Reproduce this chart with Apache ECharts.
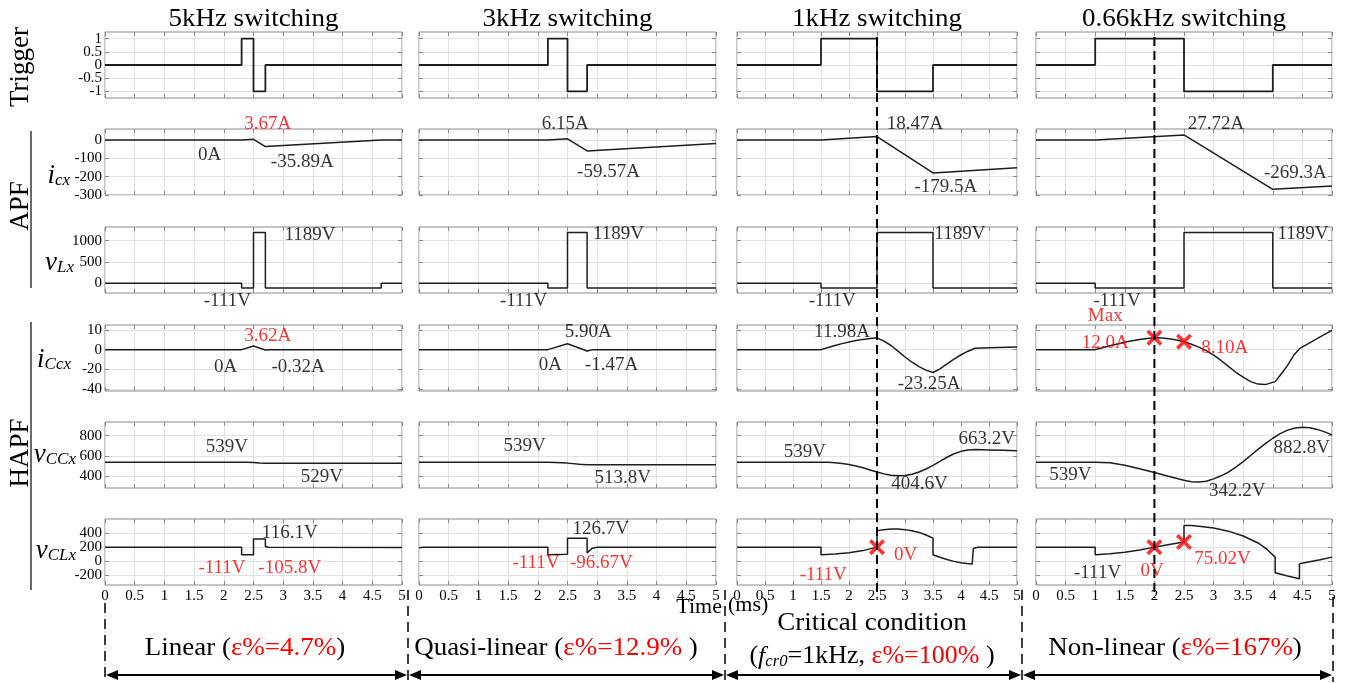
<!DOCTYPE html>
<html><head><meta charset="utf-8">
<script src="https://cdn.jsdelivr.net/npm/echarts@6/dist/echarts.min.js"></script>
<style>html,body{margin:0;padding:0;background:#fff}#c{width:1345px;height:683px}</style>
</head><body><div id="c"></div>
<script>
// ================= DATA =================
const columnTitles = ['5kHz switching', '3kHz switching', '1kHz switching', '0.66kHz switching'];
const rowMin = [-1.25, -300, -230, -42, 285, -345];
const rowMax = [1.25, 60, 1320, 25, 935, 605];
const rowTickValues = [[-1, -0.5, 0, 0.5, 1], [-300, -200, -100, 0], [0, 500, 1000], [-40, -20, 0, 20], [400, 600, 800], [-200, 0, 200, 400]];
const rowTickLabels = [['-1', '-0.5', '0', '0.5', '1'], ['-300', '-200', '-100', '0'], ['0', '500', '1000'], ['-40', '-20', '0', '10'], ['400', '600', '800'], ['-200', '0', '200', '400']];
const timeMin = 0, timeMax = 5, timeStep = 0.5;

// Trigger
const trig5k = [[0,0],[2.3,0],[2.3,1],[2.5,1],[2.5,-1],[2.7,-1],[2.7,0],[5,0]];
const trig3k = [[0,0],[2.17,0],[2.17,1],[2.5,1],[2.5,-1],[2.83,-1],[2.83,0],[5,0]];
const trig1k = [[0,0],[1.5,0],[1.5,1],[2.5,1],[2.5,-1],[3.5,-1],[3.5,0],[5,0]];
const trig066k = [[0,0],[1,0],[1,1],[2.5,1],[2.5,-1],[4,-1],[4,0],[5,0]];
// i_cx
const icx5k = [[0,0],[2.3,0],[2.5,3.67],[2.7,-35.89],[4.65,0],[5,0]];
const icx3k = [[0,0],[2.17,0],[2.5,6.15],[2.83,-59.57],[5,-19.6]];
const icx1k = [[0,0],[1.5,0],[2.5,18.47],[3.5,-179.5],[5,-152]];
const icx066k = [[0,0],[1,0],[2.5,27.72],[4,-269.3],[5,-251]];
// v_Lx
const vLx5k = [[0,0],[2.3,0],[2.3,-111],[2.5,-111],[2.5,1189],[2.7,1189],[2.7,-111],[4.65,-111],[4.65,0],[5,0]];
const vLx3k = [[0,0],[2.17,0],[2.17,-111],[2.5,-111],[2.5,1189],[2.83,1189],[2.83,-111],[5,-111]];
const vLx1k = [[0,0],[1.5,0],[1.5,-111],[2.5,-111],[2.5,1189],[3.5,1189],[3.5,-111],[5,-111]];
const vLx066k = [[0,0],[1,0],[1,-111],[2.5,-111],[2.5,1189],[4,1189],[4,-111],[5,-111]];
// i_Ccx
const iCcx5k = [[0,0],[2.3,0],[2.5,3.62],[2.7,-0.32],[2.8,0],[5,0]];
const iCcx3k = [[0,0],[2.17,0],[2.5,5.9],[2.83,-1.47],[2.93,0],[5,0]];
const iCcx1k = [[0,0],[1.5,0],[1.625,2.2],[1.75,4.2],[1.875,6.1],[2,7.8],[2.125,9.2],[2.25,10.4],[2.375,11.3],[2.5,11.98],[2.625,8.6],[2.75,4.2],[2.875,-1.5],[3,-7.5],[3.125,-12.8],[3.25,-17.3],[3.375,-20.8],[3.5,-23.25],[3.625,-19.5],[3.75,-14.5],[3.875,-9.6],[4,-5.2],[4.125,-1.6],[4.25,1.4],[4.5,2],[5,2.6]];
const iCcx066k = [[0,0],[1,0],[1.125,2],[1.25,3.9],[1.375,5.8],[1.5,7.5],[1.625,9],[1.75,10.3],[1.875,11.4],[2,12],[2.125,11.8],[2.25,11],[2.375,9.8],[2.5,8.1],[2.625,5.5],[2.75,2.5],[2.875,-1],[3,-5.5],[3.125,-11],[3.25,-17],[3.375,-23],[3.5,-28],[3.625,-32.5],[3.75,-35],[3.875,-35.5],[4.04,-32.5],[4.125,-26],[4.25,-16],[4.35,-6],[4.45,1],[4.6,6],[4.8,13],[5,19.5]];
// v_CCx
const vCCx5k = [[0,539],[2.3,539],[2.4,538],[2.5,535],[2.6,531],[2.7,529],[5,529]];
const vCCx3k = [[0,539],[2.17,539],[2.3,537],[2.5,530],[2.7,519],[2.83,514.5],[3,513.8],[5,513.8]];
const vCCx1k = [[0,539],[1.5,539],[1.625,538],[1.75,534],[1.875,527],[2,516],[2.125,502],[2.25,484],[2.375,463],[2.5,442],[2.625,424],[2.75,411],[2.875,405],[3,408],[3.125,420],[3.25,442],[3.375,472],[3.5,508],[3.625,548],[3.75,588],[3.875,622],[4,646],[4.125,659],[4.25,663.2],[4.5,660],[4.75,656],[5,652]];
const vCCx066k = [[0,539],[1,539],[1.25,533],[1.5,510],[1.75,475],[2,437],[2.25,398],[2.5,362],[2.625,347],[2.75,343],[2.875,352],[3,375],[3.125,405],[3.25,442],[3.375,490],[3.5,545],[3.625,605],[3.75,665],[3.875,722],[4,775],[4.125,820],[4.25,855],[4.375,876],[4.5,882.8],[4.625,878],[4.75,862],[4.875,838],[5,808]];
// v_CLx
const vCLx5k = [[0,200],[2.3,200],[2.3,89],[2.5,89],[2.5,316],[2.7,316],[2.7,210],[2.75,198],[5,196]];
const vCLx3k = [[0,192],[0.08,199],[2.17,200],[2.17,89],[2.5,97],[2.5,327],[2.83,327],[2.83,115],[2.87,150],[2.92,185],[3,198],[5,200]];
const vCLx1k = [[0,200],[1.5,200],[1.5,89],[1.75,100],[2,118],[2.25,150],[2.5,200],[2.5,437],[2.625,452],[2.75,460],[2.875,460],[3,452],[3.125,436],[3.25,412],[3.375,375],[3.5,330],[3.5,90],[3.625,55],[3.75,22],[3.875,-5],[4,-25],[4.1,-36],[4.2,-42],[4.22,180],[4.3,198],[5,200]];
const vCLx066k = [[0,200],[1,200],[1,89],[1.25,105],[1.5,128],[1.75,160],[2,200],[2.25,238],[2.5,275],[2.5,511],[2.625,510],[2.75,502],[3,475],[3.25,430],[3.5,360],[3.75,260],[3.9,170],[4.04,56],[4.04,-170],[4.25,-215],[4.45,-256],[4.45,-40],[4.6,-15],[4.8,20],[5,56]];

// red cross markers
const cross1kVCL = [[2.5, 200]];
const cross066kICc = [[2, 12.0], [2.5, 8.1]];
const cross066kVCL = [[2, 200], [2.5, 275]];

// value annotations [x, y, text, isRed]
const annIcx = [
  [[2.74, 87, '3.67A', 1], [1.76, -80, '0A'], [3.32, -120, '-35.89A']],
  [[2.46, 87, '6.15A'], [3.19, -174, '-59.57A']],
  [[3.18, 87, '18.47A'], [3.73, -254, '-179.5A']],
  [[3.04, 87, '27.72A'], [4.38, -182, '-269.3A']]
];
const annVLx = [
  [[3.45, 1132, '1189V'], [2.06, -418, '-111V']],
  [[3.36, 1160, '1189V'], [1.76, -418, '-111V']],
  [[3.98, 1160, '1189V'], [1.70, -418, '-111V']],
  [[4.51, 1165, '1189V'], [1.37, -418, '-111V']]
];
const annICcx = [
  [[2.74, 13.8, '3.62A', 1], [2.03, -18.1, '0A'], [3.25, -18.1, '-0.32A']],
  [[2.85, 17.4, '5.90A'], [2.21, -15.6, '0A'], [3.24, -15.6, '-1.47A']],
  [[1.875, 17.4, '11.98A'], [3.43, -34.9, '-23.25A']],
  [[1.17, 34.1, 'Max', 1], [1.17, 7.2, '12.0A', 1], [3.19, 1.6, '8.10A', 1]]
];
const annVCCx = [
  [[2.05, 684, '539V'], [3.65, 398, '529V']],
  [[1.78, 699, '539V'], [3.43, 384, '513.8V']],
  [[1.21, 635, '539V'], [4.46, 772, '663.2V'], [3.26, 329, '404.6V']],
  [[0.58, 408, '539V'], [4.49, 674, '882.8V'], [3.40, 255, '342.2V']]
];
const annVCLx = [
  [[3.11, 404, '116.1V'], [1.97, -107, '-111V', 1], [3.11, -107, '-105.8V', 1]],
  [[3.06, 468, '126.7V'], [1.97, -35, '-111V', 1], [3.07, -35, '-96.67V', 1]],
  [[1.54, -201, '-111V', 1], [3.01, 87, '0V', 1]],
  [[1.04, -179, '-111V'], [1.96, -150, '0V', 1], [3.15, 22, '75.02V', 1]]
];

const rowsData = [
  [trig5k, trig3k, trig1k, trig066k],
  [icx5k, icx3k, icx1k, icx066k],
  [vLx5k, vLx3k, vLx1k, vLx066k],
  [iCcx5k, iCcx3k, iCcx1k, iCcx066k],
  [vCCx5k, vCCx3k, vCCx1k, vCCx066k],
  [vCLx5k, vCLx3k, vCLx1k, vCLx066k]
];
const rowsAnn = [[[], [], [], []], annIcx, annVLx, annICcx, annVCCx, annVCLx];
const rowsCross = [[[], [], [], []], [[], [], [], []], [[], [], [], []],
  [[], [], [], cross066kICc], [[], [], [], []], [[], [], cross1kVCL, cross066kVCL]];

// ================= LAYOUT / STYLE =================
const SERIF = '"Liberation Serif","DejaVu Serif",serif';
const RED = '#ff0000';
const INK = '#1e1e1e';
const FRAME = '#8a8a8a';
const colLeft = [105, 419, 737, 1036], colWidth = [297, 297, 280, 296];
const rowTop = [32, 129, 227, 325, 422, 519], rowH = 66;
const CROSS = 'path://M0,1.6L1.6,0L5,3.4L8.4,0L10,1.6L6.6,5L10,8.4L8.4,10L5,6.6L1.6,10L0,8.4L3.4,5Z';

function tickLabel(r, v) {
  const i = rowTickValues[r].findIndex(t => Math.abs(t - v) < 1e-9);
  return i >= 0 ? rowTickLabels[r][i] : '';
}

const grid = [], xAxis = [], yAxis = [], series = [];
const xIndexOf = {};
for (let r = 0; r < 6; r++) {
  // label value list padded with blank edge entries, so edge-label overlap logic never hides real labels
  const ticks = rowTickValues[r];
  const lblVals = ticks.slice();
  let showMin = true, showMax = true;
  if (ticks[0] > rowMin[r]) { lblVals.unshift(rowMin[r]); showMin = false; }
  if (ticks[ticks.length - 1] < rowMax[r]) { lblVals.push(rowMax[r]); showMax = false; }
  for (let c = 0; c < 4; c++) {
    const g = grid.length;
    grid.push({ left: colLeft[c], top: rowTop[r], width: colWidth[c], height: rowH, show: true,
      borderColor: FRAME, borderWidth: 1, backgroundColor: '#fff', containLabel: false, outerBoundsMode: 'none' });
    const tick = { show: true, inside: true, length: 4, lineStyle: { color: FRAME, width: 1 } };
    xAxis.push({ gridIndex: g, type: 'value', position: 'bottom', min: timeMin, max: timeMax, interval: timeStep,
      axisLine: { show: false, onZero: false }, axisTick: tick,
      axisLabel: { show: r === 5, margin: 4, fontSize: 15, fontFamily: SERIF, color: '#000', showMinLabel: true, showMaxLabel: true, hideOverlap: false },
      splitLine: { show: true, lineStyle: { color: '#e2e2e2', width: 1 } } });
    const xb = xAxis.length - 1;
    xIndexOf[r + '_' + c] = xb;
    xAxis.push({ gridIndex: g, type: 'value', position: 'top', min: timeMin, max: timeMax, interval: timeStep,
      axisLine: { show: false, onZero: false }, axisTick: tick, axisLabel: { show: false }, splitLine: { show: false } });
    yAxis.push({ gridIndex: g, type: 'value', position: 'left', min: rowMin[r], max: rowMax[r],
      axisLine: { show: false, onZero: false },
      axisTick: Object.assign({}, tick, { customValues: ticks }),
      axisLabel: { show: c === 0, customValues: lblVals, formatter: v => tickLabel(r, v),
        margin: 3, fontSize: 15, fontFamily: SERIF, color: '#000', hideOverlap: false,
        showMinLabel: showMin, showMaxLabel: showMax },
      splitLine: { show: true, lineStyle: { color: '#e2e2e2', width: 1 } } });
    const yl = yAxis.length - 1;
    yAxis.push({ gridIndex: g, type: 'value', position: 'right', min: rowMin[r], max: rowMax[r],
      axisLine: { show: false, onZero: false },
      axisTick: Object.assign({}, tick, { customValues: ticks }),
      axisLabel: { show: false }, splitLine: { show: false } });

    series.push({ type: 'line', xAxisIndex: xb, yAxisIndex: yl, data: rowsData[r][c],
      symbol: 'none', showSymbol: false, animation: false, z: 3,
      lineStyle: { color: INK, width: r === 0 ? 1.8 : 1.5 } });

    const ann = rowsAnn[r][c];
    if (ann.length) {
      series.push({ type: 'scatter', xAxisIndex: xb, yAxisIndex: yl, symbolSize: 1, silent: true, clip: false,
        animation: false, z: 6, itemStyle: { color: 'rgba(0,0,0,0)' },
        labelLayout: { hideOverlap: false },
        data: ann.map(a => ({ value: [a[0], a[1]],
          label: { show: true, position: 'inside', formatter: a[2], color: a[3] ? RED : '#000',
            fontSize: 19, fontFamily: SERIF } })) });
    }
    const cr = rowsCross[r][c];
    if (cr.length) {
      series.push({ type: 'scatter', xAxisIndex: xb, yAxisIndex: yl, data: cr, symbol: CROSS, symbolSize: 16,
        symbolKeepAspect: true, clip: false, silent: true, animation: false, z: 7, itemStyle: { color: RED } });
    }
  }
}

const chart = echarts.init(document.getElementById('c'), null, { renderer: 'canvas' });
chart.setOption({ animation: false, backgroundColor: '#fff', grid, xAxis, yAxis, series });

// ================= ANNOTATION GRAPHICS =================
const gfx = [];
function txt(x, y, text, size, opts) {
  opts = opts || {};
  gfx.push({ type: 'text', x, y, rotation: opts.rot || 0, scaleX: opts.sx || 1, z: 100,
    style: { text, fontSize: size, fontFamily: SERIF, fontStyle: opts.italic ? 'italic' : 'normal',
      fill: opts.color || '#000', align: opts.align || 'center', textAlign: opts.align || 'center',
      verticalAlign: 'middle', textVerticalAlign: 'middle', rich: opts.rich } });
}
function line(x1, y1, x2, y2, w, dash, color) {
  gfx.push({ type: 'line', z: 90, shape: { x1, y1, x2, y2 },
    style: { stroke: color || '#000', lineWidth: w, lineDash: dash || null } });
}
// column titles
columnTitles.forEach((t, c) => txt(colLeft[c] + colWidth[c] / 2, 19, t, 25, { sx: 1.08 }));
// left side labels
txt(21, 67, 'Trigger', 27, { rot: Math.PI / 2 });
txt(21, 206, 'APF', 27, { rot: Math.PI / 2 });
txt(21, 453, 'HAPF', 27, { rot: Math.PI / 2 });
line(31, 131, 31, 288, 2, null, '#6a6a6a');
line(31, 322, 31, 590, 2, null, '#6a6a6a');
// axis names (italic with subscript)
const nameRich = {
  m: { fontSize: 27, fontStyle: 'italic', fontFamily: SERIF, fill: '#000', color: '#000', lineHeight: 30, verticalAlign: 'bottom' },
  s: { fontSize: 17, fontStyle: 'italic', fontFamily: SERIF, fill: '#000', color: '#000', lineHeight: 14, verticalAlign: 'bottom' }
};
const axisNames = [['i', 'cx', 70, 174], ['v', 'Lx', 74, 261], ['i', 'Ccx', 71, 358], ['v', 'CCx', 76, 453], ['v', 'CLx', 76, 549]];
axisNames.forEach(n => txt(n[2], n[3], '{m|' + n[0] + '}{s|' + n[1] + '}', 27, { align: 'right', rich: nameRich }));

// critical dashed verticals through the library's x scales
const topY = rowTop[0] + 5, botY = 598;
const xc3 = chart.convertToPixel({ xAxisIndex: xIndexOf['0_2'] }, 2.5);
const xc4 = chart.convertToPixel({ xAxisIndex: xIndexOf['0_3'] }, 2.0);
line(xc3, topY, xc3, botY, 2, [9, 5]);
line(xc4, topY, xc4, botY, 2, [9, 5]);

// bottom sections
const secX = [105, 408, 725, 1022, 1333];
const secTop = [603, 590, 590, 590, 597];
secX.forEach((x, i) => line(x, secTop[i], x, 682, 1.5, [10, 6]));
const arrowY = 675;
for (let i = 0; i < 4; i++) {
  const a = secX[i] + 1, b = secX[i + 1] - 1;
  line(a + 8, arrowY, b - 8, arrowY, 2);
  gfx.push({ type: 'polygon', z: 95, shape: { points: [[a, arrowY], [a + 12, arrowY - 5], [a + 12, arrowY + 5]] }, style: { fill: '#000' } });
  gfx.push({ type: 'polygon', z: 95, shape: { points: [[b, arrowY], [b - 12, arrowY - 5], [b - 12, arrowY + 5]] }, style: { fill: '#000' } });
}
const secRich = {
  k: { fontSize: 25, fontFamily: SERIF, fill: '#000', color: '#000' },
  r: { fontSize: 25, fontFamily: SERIF, fill: RED, color: RED },
  f: { fontSize: 25, fontFamily: SERIF, fontStyle: 'italic', fill: '#000', color: '#000', lineHeight: 28, verticalAlign: 'bottom' },
  s: { fontSize: 16, fontFamily: SERIF, fontStyle: 'italic', fill: '#000', color: '#000', lineHeight: 12, verticalAlign: 'bottom' }
};
txt(245, 648, '{k|Linear (}{r|ε%=4.7%}{k|)}', 25, { rich: secRich, sx: 1.08 });
txt(556, 648, '{k|Quasi-linear (}{r|ε%=12.9%}{k| )}', 25, { rich: secRich, sx: 1.08 });
txt(872, 623, '{k|Critical condition}', 25, { rich: secRich, sx: 1.08 });
txt(872, 656, '{k|(}{f|f}{s|cr0}{k|=1kHz, }{r|ε%=100%}{k| )}', 25, { rich: secRich, sx: 1.04 });
txt(1175, 648, '{k|Non-linear (}{r|ε%=167%}{k|)}', 25, { rich: secRich, sx: 1.08 });
txt(722, 607, 'Time', 22, { align: 'right' });
txt(728, 605, '(ms)', 22, { align: 'left' });

chart.setOption({ graphic: { elements: gfx } });
</script>
</body></html>
